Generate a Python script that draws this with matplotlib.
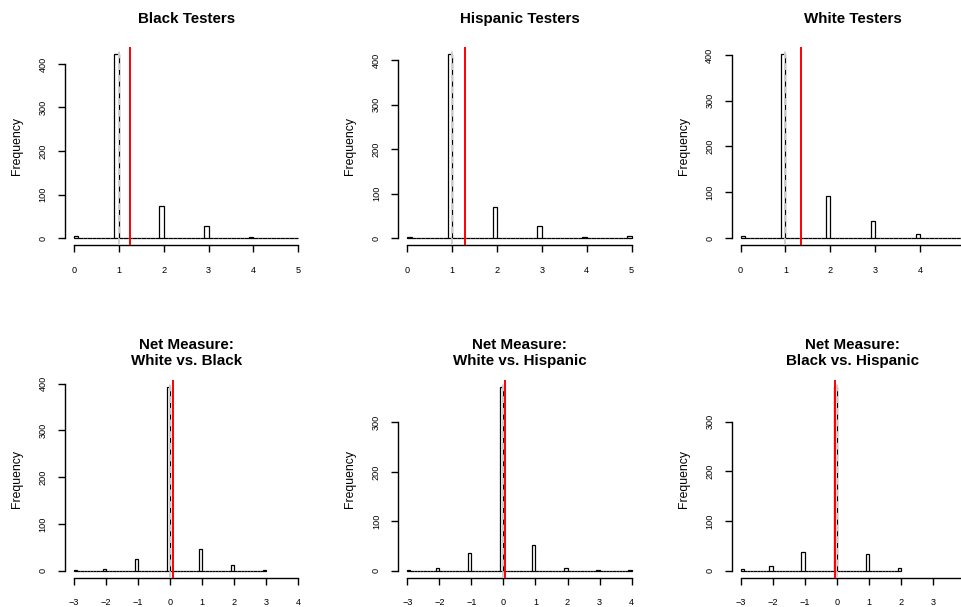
import numpy as np
import matplotlib
matplotlib.use("Agg")
import matplotlib.pyplot as plt

plt.rcParams['font.family'] = ['Liberation Sans', 'DejaVu Sans']

# ---- data (integer outcome values and their frequencies) ----
titles = ["Black Testers", "Hispanic Testers", "White Testers",
          "Net Measure:\nWhite vs. Black", "Net Measure:\nWhite vs. Hispanic",
          "Net Measure:\nBlack vs. Hispanic"]

black_vals = [0, 1, 2, 3, 4, 5]
black_counts = [5, 423, 73, 27, 2, 1]
hisp_vals = [0, 1, 2, 3, 4, 5]
hisp_counts = [2, 414, 70, 26, 3, 4]
white_vals = [0, 1, 2, 3, 4, 5]
white_counts = [4, 402, 91, 37, 8, 1]

wb_vals = [-3, -2, -1, 0, 1, 2, 3]
wb_counts = [2, 3, 26, 392, 47, 13, 1]
wh_vals = [-3, -2, -1, 0, 1, 2, 3, 4]
wh_counts = [2, 5, 35, 371, 51, 6, 2, 1]
bh_vals = [-3, -2, -1, 0, 1, 2]
bh_counts = [3, 10, 38, 369, 34, 5]

medians = [1, 1, 1, 0, 0, 0]
x_ticks_top = [0, 1, 2, 3, 4, 5]
x_ticks_bottom = [-3, -2, -1, 0, 1, 2, 3, 4]

series = [(black_vals, black_counts), (hisp_vals, hisp_counts), (white_vals, white_counts),
          (wb_vals, wb_counts), (wh_vals, wh_counts), (bh_vals, bh_counts)]

W, H = 962, 607
fig = plt.figure(figsize=(W / 100, H / 100), dpi=100)

col_left = [65, 398.3, 731.6]
col_w = 242.3
rows = [(46.6, 245.4), (380.0, 578.0)]

binw = 0.1
for i, ((vals, counts), title) in enumerate(zip(series, titles)):
    r, c = divmod(i, 3)
    top, bot = rows[r]
    ax = fig.add_axes([col_left[c] / W, 1 - bot / H, col_w / W, (bot - top) / H])
    vals = np.asarray(vals)
    counts = np.asarray(counts)
    lo, hi = vals.min(), vals.max()
    nb = int(round((hi - lo) / binw))
    edges = lo + binw * np.arange(nb + 1)
    bincounts = np.zeros(nb)
    for v, n in zip(vals, counts):
        idx = 0 if v == lo else int(round((v - lo) / binw)) - 1
        bincounts[idx] += n
    ax.bar(edges[:-1], bincounts, width=binw, align='edge', color='white',
           edgecolor='black', linewidth=0.9, zorder=2)
    mean = np.sum(vals * counts) / np.sum(counts)
    ax.axvline(medians[i], color='#cfcfcf', linestyle=(0, (3.5, 2.5)), lw=1.4, zorder=3)
    ax.axvline(mean, color='red', lw=1.4, zorder=4)

    xt = x_ticks_top if r == 0 else x_ticks_bottom
    xlo, xhi = xt[0], xt[-1]
    xr = xhi - xlo
    ax.set_xlim(xlo - 0.04 * xr, xhi + 0.04 * xr)
    ymax = counts.max()
    ax.set_ylim(-0.04 * ymax, 1.04 * ymax)
    yt = [t for t in range(0, 500, 100) if t <= 1.04 * ymax]
    ax.set_xticks(xt)
    ax.set_xticklabels([("\u2212" + str(-t)) if t < 0 else str(t) for t in xt])
    ax.set_yticks(yt)
    ax.set_yticklabels([str(t) for t in yt])
    for s in ['top', 'right']:
        ax.spines[s].set_visible(False)
    ax.spines['left'].set_bounds(yt[0], yt[-1])
    ax.spines['bottom'].set_bounds(xlo, xhi)
    for s in ['left', 'bottom']:
        ax.spines[s].set_linewidth(1.0)
    ax.tick_params(axis='both', length=5, width=1.0, labelsize=6.6, colors='black')
    ax.tick_params(axis='x', pad=9.5)
    ax.tick_params(axis='y', pad=7.5, labelrotation=90)
    for lab in ax.get_yticklabels():
        lab.set_va('center')
    ax.patch.set_visible(False)
    ax.text(-48 / col_w, 0.5, "Frequency", rotation=90, ha='center', va='center',
            fontsize=8.8, transform=ax.transAxes)
    if r == 0:
        ax.text(0.5, 1 + 23.3 / (bot - top), title, ha='center', va='baseline',
                fontsize=10.9, fontweight='bold', transform=ax.transAxes)
    else:
        ax.text(0.5, 1 + 15 / (bot - top), title, ha='center', va='baseline',
                fontsize=10.9, fontweight='bold', transform=ax.transAxes,
                linespacing=1.2, multialignment='center')

fig.savefig("out.png", dpi=100)
